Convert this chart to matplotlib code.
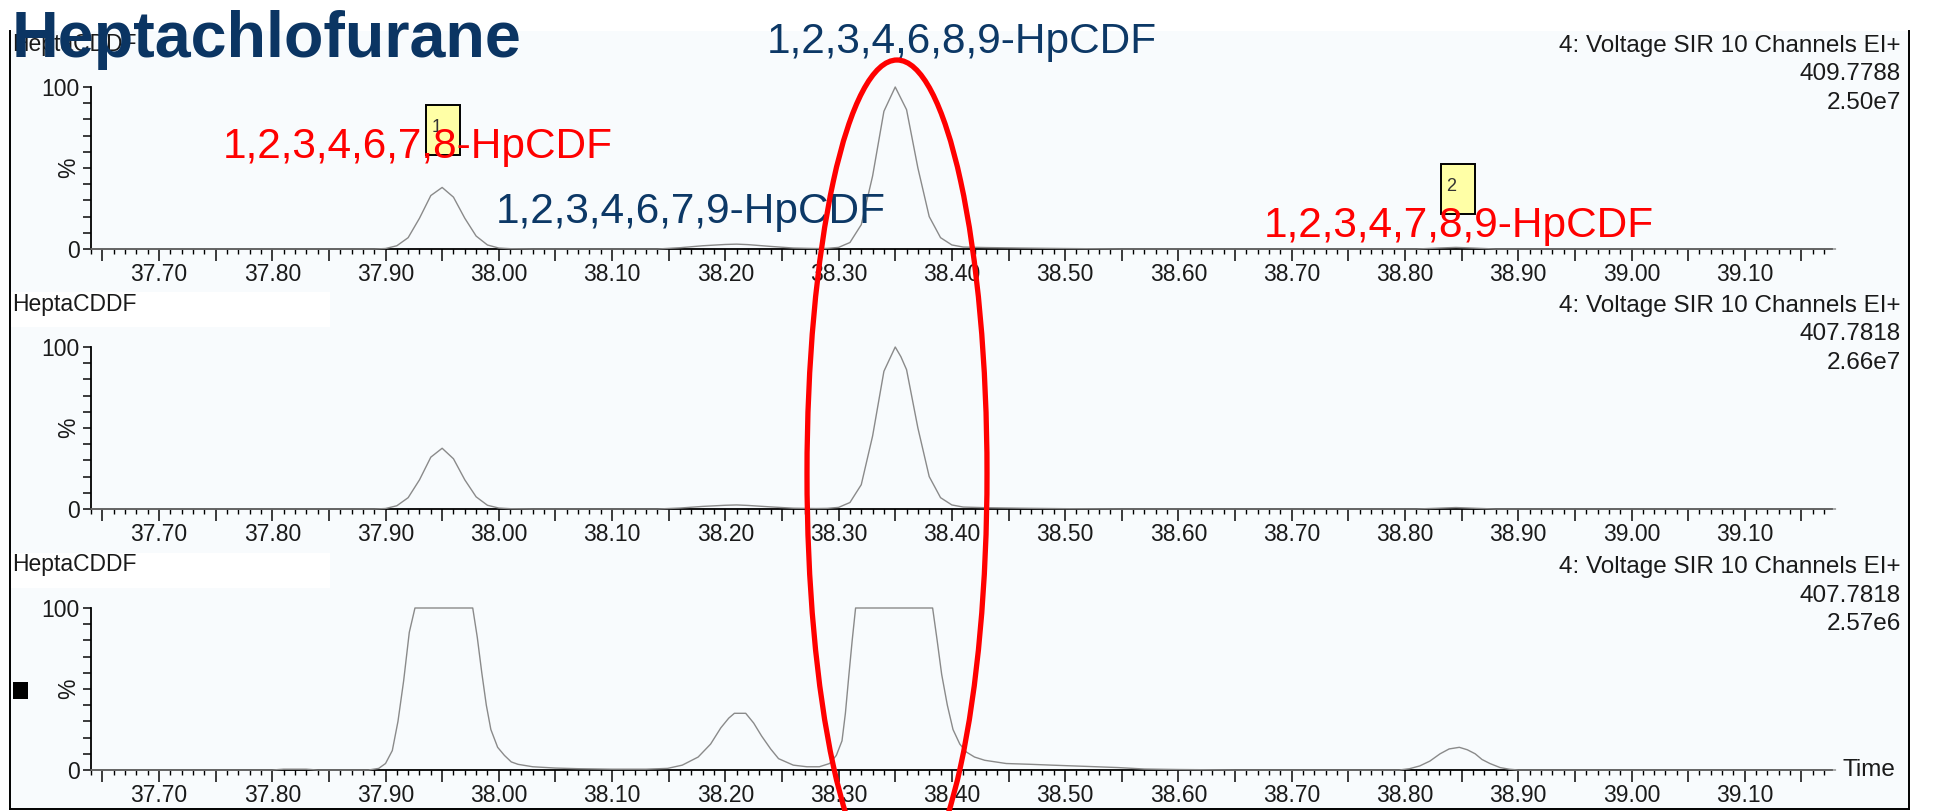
import matplotlib.pyplot as plt
from matplotlib.patches import Ellipse, Rectangle
from matplotlib.lines import Line2D
from matplotlib.ticker import MultipleLocator, FuncFormatter

plt.rcParams['font.family'] = ['Liberation Sans', 'DejaVu Sans']

# --- data (time [min], intensity [%]) ---
trace_409_7788 = [
    (37.64, 0), (37.89, 0), (37.90, 0.3), (37.91, 2), (37.92, 7), (37.93, 19), (37.94, 33),
    (37.95, 38), (37.96, 32), (37.97, 19), (37.98, 8), (37.99, 2.5), (38.00, 0.6), (38.01, 0.2),
    (38.03, 0), (38.14, 0), (38.16, 0.8), (38.18, 2), (38.20, 2.8), (38.21, 3), (38.22, 2.7),
    (38.24, 1.6), (38.26, 0.6), (38.28, 0.3), (38.29, 0.4), (38.30, 1), (38.31, 4), (38.32, 15),
    (38.33, 45), (38.34, 85), (38.35, 100), (38.355, 93), (38.36, 86), (38.37, 50), (38.38, 20),
    (38.39, 7), (38.40, 2.5), (38.41, 1.2), (38.43, 0.9), (38.46, 0.6), (38.50, 0.3), (38.55, 0),
    (38.81, 0), (38.83, 0.6), (38.845, 1), (38.86, 0.6), (38.88, 0), (39.18, 0),
]
trace_407_7818_a = [
    (37.64, 0), (37.89, 0), (37.90, 0.3), (37.91, 2), (37.92, 7), (37.93, 18), (37.94, 32),
    (37.95, 37.5), (37.96, 31), (37.97, 18), (37.98, 7.5), (37.99, 2.3), (38.00, 0.6), (38.01, 0.2),
    (38.03, 0), (38.14, 0), (38.16, 0.6), (38.18, 1.6), (38.20, 2.3), (38.21, 2.5), (38.22, 2.2),
    (38.24, 1.3), (38.26, 0.5), (38.28, 0.3), (38.29, 0.4), (38.30, 1), (38.31, 4), (38.32, 15),
    (38.33, 45), (38.34, 85), (38.35, 100), (38.355, 94), (38.36, 86), (38.37, 50), (38.38, 20),
    (38.39, 7), (38.40, 2.5), (38.41, 1.2), (38.43, 0.8), (38.46, 0.5), (38.50, 0.2), (38.55, 0),
    (38.81, 0), (38.83, 0.5), (38.845, 0.9), (38.86, 0.5), (38.88, 0), (39.18, 0),
]
trace_407_7818_b = [
    (37.64, 0), (37.80, 0), (37.81, 0.5), (37.83, 0.5), (37.84, 0), (37.885, 0), (37.894, 1),
    (37.900, 4), (37.906, 12), (37.911, 30), (37.916, 55), (37.921, 85), (37.926, 100),
    (37.977, 100), (37.981, 82), (37.985, 60), (37.989, 40), (37.993, 25), (37.999, 14),
    (38.005, 9), (38.011, 5), (38.017, 3.5), (38.03, 2), (38.05, 1.2), (38.07, 0.8), (38.10, 0.5),
    (38.13, 0.5), (38.149, 1), (38.162, 3), (38.176, 8), (38.187, 16), (38.196, 26), (38.203, 32),
    (38.208, 35), (38.218, 35), (38.225, 29), (38.232, 21), (38.240, 13), (38.247, 7),
    (38.260, 3), (38.272, 2), (38.283, 2), (38.292, 4), (38.298, 9), (38.303, 18), (38.306, 35),
    (38.309, 58), (38.312, 80), (38.315, 100), (38.383, 100), (38.387, 80), (38.391, 59),
    (38.396, 40), (38.401, 25), (38.407, 16), (38.413, 11), (38.420, 8), (38.429, 6),
    (38.448, 4), (38.47, 3.5), (38.488, 3), (38.52, 2.2), (38.547, 1.5), (38.57, 0.6),
    (38.60, 0.3), (38.65, 0), (38.795, 0), (38.804, 0.8), (38.813, 2.5), (38.822, 5.5),
    (38.831, 10), (38.839, 13), (38.848, 14), (38.855, 12.5), (38.862, 10), (38.868, 6.5),
    (38.875, 4), (38.884, 1.5), (38.892, 0.5), (38.90, 0), (39.18, 0),
]
traces = [trace_409_7788, trace_407_7818_a, trace_407_7818_b]

panel_names = ['HeptaCDDF', 'HeptaCDDF', 'HeptaCDDF']
function_text = '4: Voltage SIR 10 Channels EI+'
channel_mass = ['409.7788', '407.7818', '407.7818']
channel_scale = ['2.50e7', '2.66e7', '2.57e6']

# congener labels on the top trace: text, left time, baseline level [%], colour
label_texts = ['1,2,3,4,6,7,8-HpCDF', '1,2,3,4,6,7,9-HpCDF', '1,2,3,4,6,8,9-HpCDF', '1,2,3,4,7,8,9-HpCDF']
label_times = [37.756, 37.997, 38.237, 38.675]
label_levels = [56, 16, 121, 7.4]
label_colors = ['#ff0000', '#0c3866', '#0c3866', '#ff0000']

# integrated peak markers on the top trace
marker_ids = ['1', '2']
marker_times = [37.951, 38.847]
marker_bottoms = [58, 21.6]

W, H = 1939, 811
XMIN, XMAX = 37.640, 39.177
AX_LEFT, AX_RIGHT = 91, 1832
AX_TOPS = [87, 347, 608]
AX_H = 162


def fx(x):
    return x / W


def fy(y):
    return 1 - y / H


fig = plt.figure(figsize=(W / 100, H / 100), dpi=100)

# light panel background and frame
fig.add_artist(Rectangle((fx(10), fy(809)), 1899 / W, 778 / H, transform=fig.transFigure,
                         facecolor='#f8fbfd', edgecolor='none', zorder=0))
for xs, ys in [([10, 10], [31, 809]), ([1909, 1909], [31, 809]), ([10, 1909], [809, 809])]:
    fig.add_artist(Line2D([fx(v) for v in xs], [fy(v) for v in ys], transform=fig.transFigure,
                          color='black', lw=1.4, zorder=1))

tick_fs = 16.5
axes = []
for k, (trace, top) in enumerate(zip(traces, AX_TOPS)):
    ax = fig.add_axes([fx(AX_LEFT), fy(top + AX_H), (AX_RIGHT - AX_LEFT) / W, AX_H / H])
    ax.set_facecolor('none')
    t = [p[0] for p in trace]
    v = [p[1] for p in trace]
    ax.plot(t, v, color='#8a8a8a', lw=1.0, clip_on=False, zorder=3)
    ax.set_xlim(XMIN, XMAX)
    ax.set_ylim(0, 100)
    for s in ['top', 'right']:
        ax.spines[s].set_visible(False)
    for s in ['left', 'bottom']:
        ax.spines[s].set_linewidth(1.3)
    ax.xaxis.set_major_locator(MultipleLocator(0.05))
    ax.xaxis.set_minor_locator(MultipleLocator(0.01))
    ax.xaxis.set_major_formatter(FuncFormatter(
        lambda x, pos: f'{x:.2f}' if round(x * 100) % 10 == 0 else ''))
    ax.tick_params(axis='x', which='major', length=8.5, width=1.2, pad=1.5, labelsize=tick_fs, colors='#1a1a1a')
    ax.tick_params(axis='x', which='minor', length=3.8, width=1.0)
    yt = list(range(0, 101, 10))
    ylab = ['0' if y == 0 else '100' if y == 100 else '%' if y == 50 else '' for y in yt]
    ax.set_yticks(yt, labels=ylab)
    ax.tick_params(axis='y', length=5.5, width=1.2, pad=2.5, labelsize=tick_fs, colors='#1a1a1a')
    for lbl in ax.get_yticklabels():
        if lbl.get_text() == '%':
            lbl.set_rotation(90)
            lbl.set_verticalalignment('center')
    axes.append(ax)

    # header texts of each trace
    if k > 0:
        fig.add_artist(Rectangle((fx(10), fy(top - 20)), 320 / W, 35 / H, transform=fig.transFigure,
                                 facecolor='white', edgecolor='none', zorder=0.5))
    fig.text(fx(12), fy(top - 43), panel_names[k], fontsize=16.5, color='#1a1a1a',
             ha='left', va='center', zorder=2)
    for j, s in enumerate([function_text, channel_mass[k], channel_scale[k]]):
        fig.text(fx(1901), fy(top - 41 + j * 28.5), s, fontsize=17.5, color='#1a1a1a',
                 ha='right', va='center')

axes[2].text(1.006, 0.0, 'Time', transform=axes[2].transAxes, fontsize=17.5, color='#1a1a1a',
             ha='left', va='center')

# black marker square left of the last trace
fig.add_artist(Rectangle((fx(13), fy(699)), 15 / W, 17 / H, transform=fig.transFigure,
                         facecolor='black', edgecolor='none'))

# peak markers and congener labels on the top trace
ax1 = axes[0]
for pid, pt, pb in zip(marker_ids, marker_times, marker_bottoms):
    ax1.add_patch(Rectangle((pt - 0.015, pb), 0.03, 31, facecolor='#ffffa6', edgecolor='black',
                            lw=1.4, clip_on=False, zorder=4))
    ax1.text(pt - 0.0105, pb + 17, pid, fontsize=13, color='#333333', ha='left', va='center',
             zorder=5, clip_on=False)
for s, lt, lv, lc in zip(label_texts, label_times, label_levels, label_colors):
    ax1.text(lt, lv, s, fontsize=30.5, color=lc, ha='left', va='baseline', zorder=6, clip_on=False)

fig.text(fx(12), fy(57), 'Heptachlofurane', fontsize=46.5, fontweight='bold', color='#0b3563',
         ha='left', va='baseline', zorder=10)

# red highlight ellipse round the 1,2,3,4,6,8,9-HpCDF peak
fig.add_artist(Ellipse((fx(897), fy(473.5)), 180 / W, 827 / H, transform=fig.transFigure,
                       facecolor='none', edgecolor='#ff0000', lw=3.8, zorder=20))

fig.savefig('out.png', dpi=100)
